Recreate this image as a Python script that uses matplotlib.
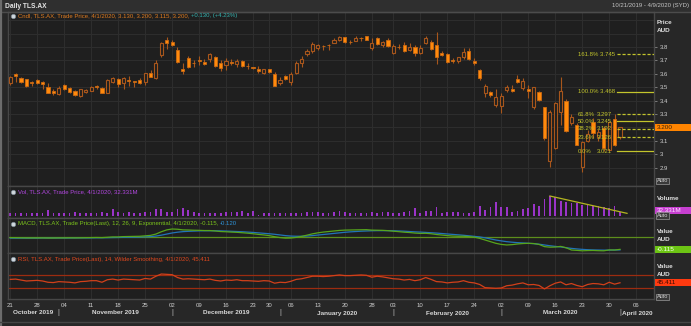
import numpy as np
import pandas as pd
import matplotlib
matplotlib.use("Agg")
import matplotlib.pyplot as plt
from matplotlib.patches import Rectangle
from matplotlib.lines import Line2D
from matplotlib.transforms import blended_transform_factory

plt.rcParams['font.family'] = ['Liberation Sans', 'DejaVu Sans']

# ---------------------------------------------------------------- data
# ASX sessions (holidays removed); the last few sessions are empty future space
asx_holidays = ["2019-12-25", "2019-12-26", "2020-01-01", "2020-01-27"]
sessions = pd.bdate_range("2019-10-21", "2020-04-09")
sessions = sessions[~sessions.isin(pd.to_datetime(asx_holidays))]

opens = [3.530, 3.597, 3.572, 3.562, 3.537, 3.555, 3.537, 3.505, 3.470, 3.450,
         3.517, 3.493, 3.475, 3.435, 3.467, 3.475, 3.505, 3.493, 3.460, 3.537,
         3.565, 3.530, 3.550, 3.545, 3.555, 3.537, 3.605, 3.567, 3.741, 3.853,
         3.836, 3.778, 3.637, 3.716, 3.680, 3.700, 3.687, 3.709, 3.728, 3.684,
         3.666, 3.691, 3.674, 3.696, 3.660, 3.648, 3.637, 3.605, 3.634, 3.599,
         3.530, 3.587, 3.542, 3.609, 3.679, 3.749, 3.771, 3.791, 3.810, 3.818,
         3.833, 3.853, 3.873, 3.838, 3.846, 3.867, 3.883, 3.791, 3.866, 3.816,
         3.853, 3.758, 3.800, 3.816, 3.778, 3.803, 3.754, 3.828, 3.841, 3.816,
         3.754, 3.746, 3.700, 3.698, 3.724, 3.773, 3.699, 3.629, 3.460, 3.463,
         3.368, 3.360, 3.480, 3.487, 3.560, 3.493, 3.485, 3.350, 3.463, 3.350,
         2.952, 3.045, 3.313, 3.400, 3.231, 3.219, 2.907, 3.100, 3.243, 3.130,
         3.194, 3.032, 3.261, 3.130]
highs = [3.585, 3.605, 3.580, 3.565, 3.550, 3.560, 3.545, 3.530, 3.485, 3.510,
         3.525, 3.500, 3.480, 3.490, 3.490, 3.510, 3.520, 3.500, 3.560, 3.580,
         3.570, 3.580, 3.585, 3.550, 3.570, 3.610, 3.630, 3.705, 3.840, 3.873,
         3.850, 3.800, 3.680, 3.730, 3.700, 3.730, 3.710, 3.755, 3.735, 3.700,
         3.715, 3.710, 3.710, 3.703, 3.685, 3.655, 3.660, 3.640, 3.640, 3.617,
         3.580, 3.592, 3.617, 3.697, 3.730, 3.783, 3.835, 3.823, 3.815, 3.820,
         3.865, 3.885, 3.876, 3.850, 3.880, 3.872, 3.885, 3.866, 3.878, 3.846,
         3.870, 3.820, 3.820, 3.840, 3.828, 3.815, 3.815, 3.885, 3.853, 3.915,
         3.770, 3.754, 3.718, 3.728, 3.790, 3.790, 3.718, 3.637, 3.525, 3.475,
         3.490, 3.455, 3.520, 3.520, 3.590, 3.570, 3.520, 3.505, 3.470, 3.355,
         3.330, 3.390, 3.580, 3.410, 3.300, 3.230, 3.100, 3.180, 3.270, 3.190,
         3.210, 3.250, 3.300, 3.200]
lows = [3.520, 3.540, 3.530, 3.505, 3.510, 3.525, 3.490, 3.455, 3.440, 3.440,
        3.480, 3.460, 3.435, 3.430, 3.460, 3.470, 3.490, 3.455, 3.455, 3.530,
        3.500, 3.490, 3.510, 3.500, 3.525, 3.520, 3.575, 3.560, 3.728, 3.784,
        3.810, 3.680, 3.600, 3.645, 3.655, 3.670, 3.665, 3.690, 3.655, 3.625,
        3.630, 3.670, 3.655, 3.650, 3.640, 3.640, 3.605, 3.600, 3.605, 3.512,
        3.520, 3.555, 3.517, 3.597, 3.654, 3.735, 3.753, 3.780, 3.775, 3.780,
        3.828, 3.848, 3.830, 3.825, 3.843, 3.845, 3.850, 3.780, 3.816, 3.800,
        3.800, 3.748, 3.785, 3.765, 3.770, 3.730, 3.745, 3.820, 3.778, 3.672,
        3.730, 3.680, 3.680, 3.680, 3.710, 3.700, 3.664, 3.555, 3.430, 3.430,
        3.355, 3.306, 3.465, 3.465, 3.530, 3.480, 3.420, 3.340, 3.400, 3.110,
        2.903, 3.040, 3.220, 3.170, 3.215, 3.069, 2.870, 3.090, 3.120, 3.100,
        3.021, 3.030, 3.060, 3.115]
closes = [3.575, 3.585, 3.537, 3.512, 3.532, 3.530, 3.522, 3.460, 3.460, 3.493,
          3.485, 3.467, 3.440, 3.485, 3.482, 3.505, 3.503, 3.460, 3.555, 3.572,
          3.525, 3.572, 3.548, 3.540, 3.530, 3.605, 3.580, 3.684, 3.833, 3.828,
          3.816, 3.691, 3.620, 3.654, 3.678, 3.698, 3.672, 3.746, 3.661, 3.642,
          3.696, 3.679, 3.699, 3.661, 3.658, 3.645, 3.622, 3.637, 3.612, 3.512,
          3.555, 3.562, 3.597, 3.684, 3.711, 3.773, 3.823, 3.816, 3.805, 3.815,
          3.853, 3.878, 3.836, 3.835, 3.866, 3.865, 3.853, 3.833, 3.821, 3.836,
          3.810, 3.808, 3.798, 3.771, 3.803, 3.758, 3.791, 3.866, 3.786, 3.728,
          3.739, 3.687, 3.698, 3.724, 3.766, 3.709, 3.679, 3.567, 3.510, 3.443,
          3.430, 3.435, 3.505, 3.472, 3.540, 3.549, 3.475, 3.500, 3.405, 3.120,
          3.318, 3.380, 3.472, 3.176, 3.276, 3.069, 3.094, 3.150, 3.161, 3.170,
          3.045, 3.243, 3.070, 3.200]

volumes_m = [20, 20, 20, 20, 20, 20, 20, 45, 20, 20,
             20, 20, 30, 20, 20, 20, 20, 30, 25, 50,
             33, 20, 30, 25, 20, 30, 30, 50, 50, 33,
             33, 50, 58, 45, 33, 20, 20, 20, 20, 25,
             33, 30, 33, 38, 25, 38, 10, 20, 20, 20,
             20, 25, 25, 25, 25, 30, 30, 30, 20, 20,
             30, 40, 30, 20, 25, 25, 25, 30, 25, 30,
             30, 25, 20, 33, 38, 58, 25, 38, 38, 70,
             25, 30, 30, 33, 25, 25, 30, 75, 45, 70,
             108, 65, 65, 33, 38, 50, 58, 90, 75, 125,
             150, 140, 115, 108, 100, 95, 85, 83, 75, 75,
             65, 58, 75, 32.331]

macd_line = [-0.008, -0.009, -0.010, -0.011, -0.011, -0.011, -0.011, -0.012, -0.012, -0.011,
             -0.011, -0.010, -0.011, -0.010, -0.009, -0.008, -0.007, -0.008, -0.005, -0.002,
             -0.002, 0.001, 0.002, 0.003, 0.004, 0.008, 0.012, 0.024, 0.045, 0.062,
             0.070, 0.068, 0.062, 0.061, 0.059, 0.058, 0.056, 0.056, 0.052, 0.047,
             0.045, 0.042, 0.040, 0.036, 0.032, 0.027, 0.021, 0.016, 0.010, 0.000,
             -0.008, -0.013, -0.012, -0.006, 0.003, 0.014, 0.026, 0.035, 0.042, 0.047,
             0.052, 0.057, 0.060, 0.061, 0.062, 0.063, 0.064, 0.060, 0.059, 0.058,
             0.055, 0.050, 0.046, 0.041, 0.038, 0.033, 0.030, 0.031, 0.027, 0.020,
             0.015, 0.010, 0.006, 0.004, 0.004, 0.001, -0.004, -0.015, -0.030, -0.045,
             -0.060, -0.070, -0.075, -0.072, -0.066, -0.062, -0.060, -0.062, -0.070, -0.090,
             -0.095, -0.094, -0.088, -0.100, -0.121, -0.124, -0.128, -0.126, -0.125, -0.127,
             -0.128, -0.120, -0.121, -0.115]
signal_line = [-0.013, -0.013, -0.013, -0.013, -0.013, -0.013, -0.012, -0.012, -0.012, -0.012,
               -0.012, -0.012, -0.011, -0.011, -0.011, -0.011, -0.010, -0.010, -0.009, -0.008,
               -0.007, -0.006, -0.005, -0.004, -0.003, -0.001, 0.001, 0.006, 0.014, 0.024,
               0.034, 0.041, 0.046, 0.049, 0.051, 0.053, 0.054, 0.054, 0.054, 0.053,
               0.051, 0.049, 0.047, 0.045, 0.042, 0.039, 0.035, 0.031, 0.027, 0.022,
               0.016, 0.010, 0.006, 0.004, 0.004, 0.006, 0.010, 0.015, 0.020, 0.025,
               0.030, 0.035, 0.040, 0.044, 0.047, 0.050, 0.052, 0.054, 0.055, 0.055,
               0.055, 0.054, 0.052, 0.050, 0.047, 0.044, 0.042, 0.039, 0.036, 0.033,
               0.029, 0.025, 0.021, 0.017, 0.013, 0.008, 0.003, -0.002, -0.010, -0.020,
               -0.030, -0.038, -0.045, -0.050, -0.054, -0.057, -0.060, -0.063, -0.068, -0.075,
               -0.082, -0.088, -0.093, -0.100, -0.106, -0.111, -0.115, -0.118, -0.120, -0.121,
               -0.122, -0.122, -0.121, -0.120]
rsi_line = [56, 57, 54, 51, 52, 53, 51, 47, 46, 49,
            48, 47, 45, 49, 50, 52, 52, 47, 55, 57,
            54, 57, 56, 55, 54, 59, 57, 66, 73, 72,
            71, 62, 57, 58, 57, 56, 55, 57, 53, 51,
            54, 53, 55, 52, 52, 51, 50, 52, 51, 44,
            47, 46, 50, 56, 58, 62, 66, 66, 65, 66,
            68, 70, 68, 68, 69, 70, 69, 63, 66, 64,
            61, 58, 57, 54, 56, 52, 55, 62, 56, 49,
            48, 45, 47, 48, 52, 47, 45, 40, 30, 29,
            28, 29, 36, 38, 42, 45, 39, 40, 37, 26,
            36, 44, 48, 39, 43, 37, 33, 40, 43, 42,
            39, 47, 41, 45.411]
rsi_bands = [70, 30]

# Fibonacci retracement drawn over the late-March swing
fib_pcts = ["161.8%", "100.0%", "61.8%", "50.0%", "38.2%", "23.6%", "0.0%"]
fib_values = [3.745, 3.468, 3.297, 3.245, 3.192, 3.126, 3.021]
fib_styles = ["--", "-", "--", "-", "--", "--", "-"]

# falling volume trend line (session index, volume in millions)
trend_sessions = [100, 114.3]
trend_volumes = [150, 20]

price_ticks = [2.9, 3.0, 3.1, 3.2, 3.3, 3.4, 3.5, 3.6, 3.7, 3.8]
last_close = 3.200
last_volume = "32.331M"
last_macd = -0.115
last_rsi = 45.411

# ---------------------------------------------------------------- styling
W, H = 691, 326
OUTER = "#272727"
PLOT_BG = "#1f1f1f"
GRID = "#2d2d2d"
SPINE = "#474747"
TXT = "#cfcfcf"
UP_EDGE = "#a8561c"
DOWN_FILL = "#ff8a0c"
DOWN_EDGE = "#cc6a12"
FIB = "#c3c52c"
FS = 4.3

fig = plt.figure(figsize=(W / 100, H / 100), dpi=100, facecolor=OUTER)


def fx(px):
    return px / W


def fy(py):
    return 1 - py / H


PLOT_L, PLOT_R = 7.5, 654


def panel(top, bottom):
    ax = fig.add_axes([fx(PLOT_L), fy(bottom), fx(PLOT_R) - fx(PLOT_L), (bottom - top) / H])
    ax.set_facecolor(PLOT_BG)
    for s in ax.spines.values():
        s.set_color(SPINE)
        s.set_linewidth(1.0)
    return ax


n = len(closes)
x = np.arange(n)
o = np.array(opens)
c = np.array(closes)
hi = np.array(highs)
lo = np.array(lows)
xmin, xmax = -0.5, 119.3

# weekly tick positions and month boundaries
week_key = sessions.to_period("W")
week_starts = [i for i in range(len(sessions)) if i == 0 or week_key[i] != week_key[i - 1]]
month_key = sessions.to_period("M")
month_starts = [i for i in range(1, len(sessions)) if month_key[i] != month_key[i - 1]]

ax_p = panel(12, 186)
ax_v = panel(186, 218)
ax_m = panel(218, 253)
ax_r = panel(253, 299)

for ax in (ax_p, ax_v, ax_m, ax_r):
    ax.set_xlim(xmin, xmax)
    for w in week_starts:
        ax.axvline(w, color=GRID, lw=0.8, zorder=0)
    ax.tick_params(axis="x", length=0, labelbottom=False)
    ax.tick_params(axis="y", length=0, labelleft=False, labelright=False)

# ---------------------------------------------------------------- price
ax_p.set_ylim(2.7634, 4.0619)
for lvl in np.arange(2.9, 4.05, 0.1):
    ax_p.axhline(lvl, color=GRID, lw=0.8, zorder=0)
ax_p.yaxis.tick_right()
ax_p.set_yticks(price_ticks)
# the last-price marker sits on top of the 3.2 label, so that one stays blank
ax_p.set_yticklabels(["" if abs(v - last_close) < 0.05 else f"{v:g}" for v in price_ticks])
ax_p.tick_params(axis="y", right=True, labelright=True, length=2.5, width=0.6,
                 color="#8a8a8a", labelsize=FS, labelcolor=TXT, pad=1.5)

up = c >= o
ax_p.vlines(x, lo, hi, color=UP_EDGE, lw=0.8, zorder=2)
body_lo = np.minimum(o, c)
body_h = np.maximum(np.abs(c - o), 0.004)
ax_p.bar(x[up], body_h[up], bottom=body_lo[up], width=0.58, facecolor=PLOT_BG,
         edgecolor=UP_EDGE, linewidth=0.8, zorder=3)
ax_p.bar(x[~up], body_h[~up], bottom=body_lo[~up], width=0.58, facecolor=DOWN_FILL,
         edgecolor=DOWN_EDGE, linewidth=0.6, zorder=3)

for pct, val, ls in zip(fib_pcts, fib_values, fib_styles):
    line_kw = dict(color=FIB, lw=0.9, zorder=4)
    if ls == "--":
        line_kw["dashes"] = (2.5, 1.5)
    ax_p.plot([112.4, xmax], [val, val], **line_kw)
    if val > 3.4:
        ax_p.text(105.2, val, f"{pct} {val:.3f}", color=FIB, fontsize=FS, va="center", ha="left", zorder=5)
    else:
        ax_p.text(105.2, val, pct, color=FIB, fontsize=FS, va="center", ha="left", zorder=5)
        ax_p.text(108.7, val, f"{val:.3f}", color=FIB, fontsize=FS, va="center", ha="left", zorder=5)

# ---------------------------------------------------------------- volume
ax_v.set_ylim(-15, 225)
ax_v.bar(x, volumes_m, width=0.32, color="#9a34c8", zorder=2)
ax_v.plot(trend_sessions, trend_volumes, color="#b3b420", lw=0.9, zorder=3)

# ---------------------------------------------------------------- MACD
ax_m.set_ylim(-0.148, 0.170)
ax_m.axhline(0, color="#5d8e1c", lw=0.9, zorder=1)
ax_m.plot(x, signal_line, color="#2274b8", lw=0.9, zorder=2)
ax_m.plot(x, macd_line, color="#57a51c", lw=0.9, zorder=3)

# ---------------------------------------------------------------- RSI
ax_r.set_ylim(-5.8, 139.3)
for b in rsi_bands:
    ax_r.axhline(b, color="#9c2c10", lw=0.9, zorder=1)
ax_r.plot(x, rsi_line, color="#d2401a", lw=0.9, zorder=2)

# day-of-month labels under the lowest panel
ax_r.set_xticks(week_starts)
ax_r.set_xticklabels([sessions[i].strftime("%d") for i in week_starts])
ax_r.tick_params(axis="x", labelbottom=True, labelsize=FS, labelcolor=TXT, pad=3.2, length=0)

# month names centred between month boundaries
tr = blended_transform_factory(ax_r.transData, fig.transFigure)
edges = [xmin] + month_starts + [xmax]
months = [sessions[0]] + [sessions[i] for i in month_starts]
for k, m in enumerate(months):
    mid = (edges[k] + edges[k + 1]) / 2
    fig.text(mid, fy(313), m.strftime("%B %Y"), transform=tr, ha="center", va="center",
             fontsize=4.6, fontweight="bold", color="#d8d8d8")
for b in month_starts:
    fig.text(b, fy(313), "|", transform=tr, ha="center", va="center", fontsize=5, color="#bdbdbd")

# ---------------------------------------------------------------- frame, header, legends
fig.add_artist(Rectangle((0, fy(12)), 1, 12 / H, transform=fig.transFigure, fc="#2f2f2f", ec="none", zorder=-1))
fig.add_artist(Line2D([0, 1], [fy(12), fy(12)], transform=fig.transFigure, color="#4c4c4c", lw=1))
fig.add_artist(Line2D([fx(1), fx(1)], [0, 1], transform=fig.transFigure, color="#6c6c6c", lw=1.6))
fig.add_artist(Line2D([0, 1], [fy(322), fy(322)], transform=fig.transFigure, color="#454545", lw=1))
fig.text(fx(5), fy(6), "Daily TLS.AX", fontsize=4.8, fontweight="bold", color="#e4e4e4", va="center")
fig.text(fx(689), fy(6), "10/21/2019 - 4/9/2020 (SYD)", fontsize=FS, color="#c4c4c4", va="center", ha="right")


def legend(py, parts):
    fig.add_artist(Line2D([fx(13)], [fy(py)], transform=fig.transFigure, marker="o", ms=3.2,
                          mfc="#cfd6dc", mec="#7d8a95", mew=0.5, ls="none"))
    prev = fig.text(fx(18), fy(py), parts[0][0], color=parts[0][1], fontsize=FS, va="center")
    for s, col in parts[1:]:
        prev = fig.add_artist(plt.Annotation(s, xy=(1, 0.5), xycoords=prev, va="center", ha="left",
                                             fontsize=FS, color=col))


legend(15.5, [("Cndl, TLS.AX, Trade Price, 4/1/2020, 3.130, 3.200, 3.115, 3.200, ", "#e07c20"),
              ("+0.130, (+4.23%)", "#35b3b0")])
legend(191.5, [(f"Vol, TLS.AX, Trade Price, 4/1/2020, {last_volume}", "#b247e0")])
legend(223.5, [("MACD, TLS.AX, Trade Price(Last), 12, 26, 9, Exponential, 4/1/2020, -0.115, ", "#7cc41c"),
               ("-0.120", "#2e93d8")])
legend(259, [("RSI, TLS.AX, Trade Price(Last), 14, Wilder Smoothing, 4/1/2020, 45.411", "#e2481e")])

# right-hand axis captions
for py, s in [(23, "Price"), (31, "AUD"), (199, "Volume"), (231.5, "Value"), (239.5, "AUD"),
              (267, "Value"), (274.5, "AUD")]:
    fig.text(fx(657), fy(py), s, fontsize=4.6, fontweight="bold", color="#e0e0e0", va="center")


def auto_button(py):
    fig.text(fx(657), fy(py), "Auto", fontsize=4, color="#d0d0d0", va="center",
             bbox=dict(boxstyle="square,pad=0.15", fc="#3a3a3a", ec="#9a9a9a", lw=0.5))


for py in (181, 215.5, 297):
    auto_button(py)


def value_box(ax, yval, text, fc, tc, hpx=7):
    trb = blended_transform_factory(fig.transFigure, ax.transData)
    bbox_h = hpx * (ax.get_ylim()[1] - ax.get_ylim()[0]) / (ax.get_position().height * H)
    ax.add_artist(Rectangle((fx(655), yval - bbox_h / 2), fx(691) - fx(655), bbox_h, transform=trb,
                            fc=fc, ec="none", clip_on=False, zorder=6))
    ax.text(fx(656.5), yval, text, transform=trb, fontsize=FS + 0.3, color=tc, va="center",
            ha="left", clip_on=False, zorder=7)


value_box(ax_p, last_close, f"{last_close:.3f}", "#ff8400", "#3a2208")
value_box(ax_v, volumes_m[-1] + 8, last_volume, "#c63fd0", "#fbe6ff")
value_box(ax_m, last_macd, f"{last_macd:.3f}", "#6cc414", "#f4fff0")
value_box(ax_r, last_rsi, f"{last_rsi:.3f}", "#ff3a10", "#3a0a00")

fig.savefig("out.png", dpi=100, facecolor=OUTER)
